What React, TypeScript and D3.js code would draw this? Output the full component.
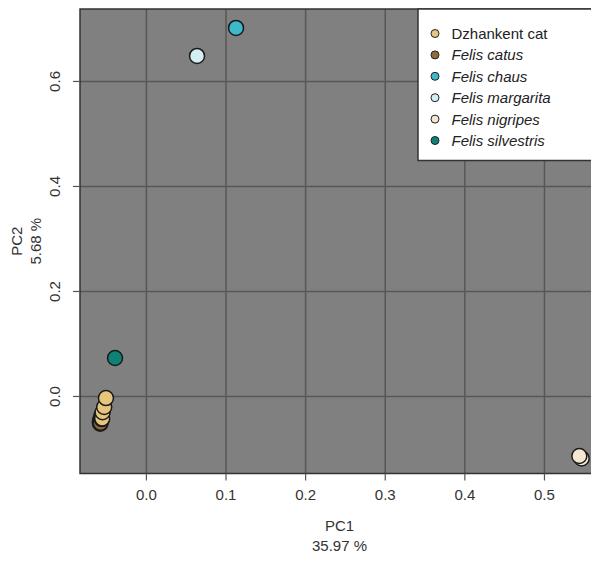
import React, { useEffect, useRef } from 'react';
import * as d3 from 'd3';

// species in legend order
const species = ['Dzhankent cat', 'Felis catus', 'Felis chaus', 'Felis margarita', 'Felis nigripes', 'Felis silvestris'];
const speciesColors = ['#e6c67c', '#8d6c3f', '#3fb8c8', '#d4eff3', '#f5e8d0', '#0f8276'];

// PC scores
const catusPC1 = [-0.056, -0.057, -0.058, -0.0585, -0.058, -0.0575, -0.056];
const catusPC2 = [-0.035, -0.040, -0.045, -0.049, -0.052, -0.050, -0.043];
const dzhankentPC1 = [-0.0555, -0.055, -0.053, -0.0508];
const dzhankentPC2 = [-0.042, -0.030, -0.020, -0.003];
const chausPC1 = [0.1126];
const chausPC2 = [0.702];
const margaritaPC1 = [0.0636];
const margaritaPC2 = [0.6486];
const nigripesPC1 = [0.5467, 0.5438];
const nigripesPC2 = [-0.118, -0.1133];
const silvestrisPC1 = [-0.0394];
const silvestrisPC2 = [0.0733];

const xTicks = [0.0, 0.1, 0.2, 0.3, 0.4, 0.5];
const yTicks = [0.0, 0.2, 0.4, 0.6];

const W = 591;
const H = 561;

function App() {
  const ref = useRef<SVGSVGElement>(null);

  useEffect(() => {
    const svg = d3.select(ref.current);
    svg.selectAll('*').remove();

    const left = 80, top = 9, right = 599, bottom = 473.5;
    const x = d3.scaleLinear().domain([-0.0834, 0.5685]).range([left, right]);
    const y = d3.scaleLinear().domain([-0.1467, 0.738]).range([bottom, top]);

    // plot background
    svg.append('rect')
      .attr('x', left).attr('y', top)
      .attr('width', right - left).attr('height', bottom - top)
      .attr('fill', '#808080');

    // grid
    svg.append('g').selectAll('line').data(xTicks).enter().append('line')
      .attr('x1', d => x(d)).attr('x2', d => x(d))
      .attr('y1', top).attr('y2', bottom)
      .attr('stroke', '#575757').attr('stroke-width', 1.5);
    svg.append('g').selectAll('line').data(yTicks).enter().append('line')
      .attr('x1', left).attr('x2', right)
      .attr('y1', d => y(d)).attr('y2', d => y(d))
      .attr('stroke', '#575757').attr('stroke-width', 1.5);

    // points, drawn in data order
    const groups = [
      { sp: 1, xs: catusPC1, ys: catusPC2 },
      { sp: 0, xs: dzhankentPC1, ys: dzhankentPC2 },
      { sp: 2, xs: chausPC1, ys: chausPC2 },
      { sp: 3, xs: margaritaPC1, ys: margaritaPC2 },
      { sp: 4, xs: nigripesPC1, ys: nigripesPC2 },
      { sp: 5, xs: silvestrisPC1, ys: silvestrisPC2 },
    ];
    const pts = groups.flatMap(g => g.xs.map((v, i) => ({ x: v, y: g.ys[i], sp: g.sp })));
    svg.append('g').selectAll('circle').data(pts).enter().append('circle')
      .attr('cx', d => x(d.x)).attr('cy', d => y(d.y))
      .attr('r', 7.5)
      .attr('fill', d => speciesColors[d.sp])
      .attr('stroke', '#1a1a1a').attr('stroke-width', 1.5);

    // frame
    svg.append('rect')
      .attr('x', left).attr('y', top)
      .attr('width', right - left).attr('height', bottom - top)
      .attr('fill', 'none').attr('stroke', '#333').attr('stroke-width', 1.5);

    // axes
    const font = 'Liberation Sans, Arial, sans-serif';
    const fs = 15;
    const xAxis = svg.append('g');
    xAxis.selectAll('line').data(xTicks).enter().append('line')
      .attr('x1', d => x(d)).attr('x2', d => x(d))
      .attr('y1', bottom).attr('y2', bottom + 7)
      .attr('stroke', '#555').attr('stroke-width', 1.2);
    xAxis.selectAll('text').data(xTicks).enter().append('text')
      .attr('x', d => x(d)).attr('y', 500)
      .attr('text-anchor', 'middle')
      .attr('font-family', font).attr('font-size', fs).attr('fill', '#333')
      .text(d => d3.format('.1f')(d));

    const yAxis = svg.append('g');
    yAxis.selectAll('line').data(yTicks).enter().append('line')
      .attr('x1', left - 7).attr('x2', left)
      .attr('y1', d => y(d)).attr('y2', d => y(d))
      .attr('stroke', '#555').attr('stroke-width', 1.2);
    yAxis.selectAll('text').data(yTicks).enter().append('text')
      .attr('transform', d => `translate(60, ${y(d)}) rotate(-90)`)
      .attr('text-anchor', 'middle')
      .attr('font-family', font).attr('font-size', fs).attr('fill', '#333')
      .text(d => d3.format('.1f')(d));

    // axis titles
    const cx = (left + right) / 2;
    const cy = (top + bottom) / 2;
    svg.append('text').attr('x', cx).attr('y', 531).attr('text-anchor', 'middle')
      .attr('font-family', font).attr('font-size', fs).attr('fill', '#333').text('PC1');
    svg.append('text').attr('x', cx).attr('y', 551).attr('text-anchor', 'middle')
      .attr('font-family', font).attr('font-size', fs).attr('fill', '#333').text('35.97 %');
    svg.append('text').attr('transform', `translate(22, ${cy}) rotate(-90)`).attr('text-anchor', 'middle')
      .attr('font-family', font).attr('font-size', fs).attr('fill', '#333').text('PC2');
    svg.append('text').attr('transform', `translate(41, ${cy}) rotate(-90)`).attr('text-anchor', 'middle')
      .attr('font-family', font).attr('font-size', fs).attr('fill', '#333').text('5.68 %');

    // legend
    const lg = svg.append('g');
    lg.append('rect')
      .attr('x', 418).attr('y', top).attr('width', 200).attr('height', 160.5 - top)
      .attr('fill', '#fff').attr('stroke', '#333').attr('stroke-width', 1.5);
    const rows = lg.selectAll('g.row').data(species).enter().append('g')
      .attr('transform', (d, i) => `translate(0, ${33.5 + i * 21.4})`);
    rows.append('circle')
      .attr('cx', 435).attr('cy', 0).attr('r', 4)
      .attr('fill', (d, i) => speciesColors[i])
      .attr('stroke', '#222').attr('stroke-width', 1);
    rows.append('text')
      .attr('x', 451.5).attr('y', 5.5)
      .attr('font-family', font).attr('font-size', fs).attr('fill', '#222')
      .attr('font-style', (d, i) => (i === 0 ? 'normal' : 'italic'))
      .text(d => d);
  }, []);

  return (
    <div style={{ position: 'absolute', left: 0, top: 0 }}>
      <svg ref={ref} width={W} height={H} style={{ display: 'block', background: '#fff' }} />
    </div>
  );
}

export default App;
